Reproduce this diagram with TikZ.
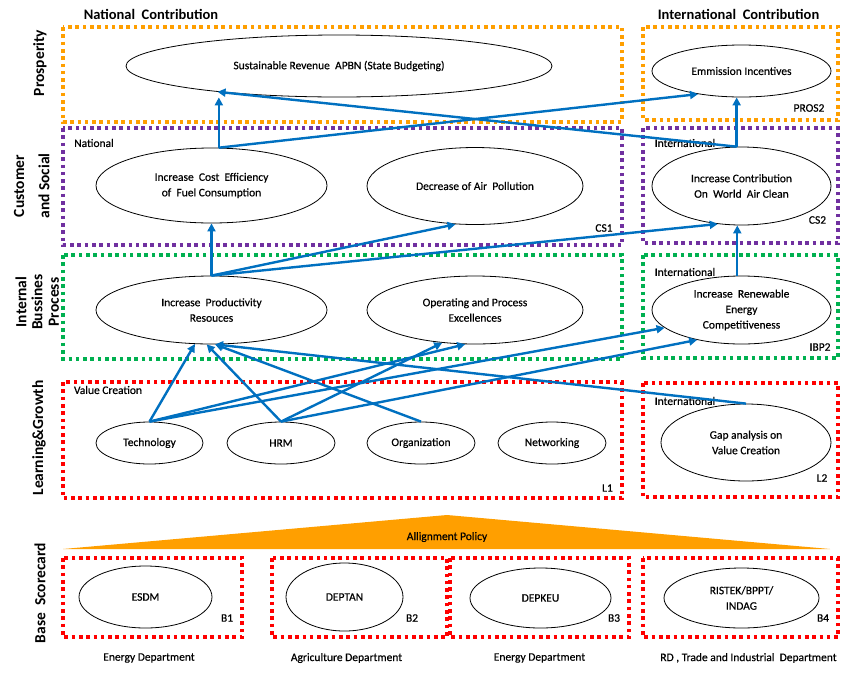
\documentclass[tikz,border=0pt]{standalone}
\usepackage{fontspec}
\setmainfont{Carlito}
\newfontfamily\labfont{Carlito}[FakeBold=0.45]
\usetikzlibrary{shapes.geometric,arrows.meta}
\definecolor{corange}{HTML}{FF9F00}
\definecolor{cpurple}{HTML}{7030A0}
\definecolor{cgreen}{HTML}{00B050}
\definecolor{cred}{HTML}{FF0000}
\definecolor{cblue}{HTML}{0070C0}
\begin{document}
\begin{tikzpicture}[x=1pt,y=-1pt,
  txt/.style={font=\labfont\fontsize{11.5}{15.5}\selectfont, inner sep=0pt, align=center},
  ell/.style={draw, ellipse, line width=0.8pt, inner sep=0pt, align=center, font=\labfont\fontsize{11.5}{15.5}\selectfont},
  hdr/.style={font=\bfseries\fontsize{14.5}{17}\selectfont, inner sep=0pt},
  rowlab/.style={rotate=90, font=\bfseries\fontsize{15.5}{18}\selectfont, inner sep=0pt},
  dotbox/.style={line width=3.3pt, dash pattern=on 3.6pt off 3.7pt},
  conn/.style={draw=cblue, line width=2.4pt, -{Triangle[length=8pt,width=8pt]}}]
\useasboundingbox (0,0) rectangle (841,673);

% dotted boxes
\draw[dotbox, draw=corange] (63,27) rectangle (622,122);
\draw[dotbox, draw=corange] (643,27) rectangle (838,120);
\draw[dotbox, draw=cpurple] (63,128) rectangle (622,245);
\draw[dotbox, draw=cpurple] (643,128) rectangle (838,243);
\draw[dotbox, draw=cgreen] (63,255) rectangle (622,359);
\draw[dotbox, draw=cgreen] (643,255) rectangle (838,358);
\draw[dotbox, draw=cred] (63,382) rectangle (622,498);
\draw[dotbox, draw=cred] (643,383) rectangle (838,497);
\draw[dotbox, draw=cred] (63,558) rectangle (242,637);
\draw[dotbox, draw=cred] (272,558) rectangle (447,637);
\draw[dotbox, draw=cred] (450,558) rectangle (629,637);
\draw[dotbox, draw=cred] (643,558) rectangle (838,637);

% alignment triangle
\fill[corange] (63,549) -- (447,515) -- (830,549) -- cycle;
\node[txt] (align) at (447,537) {Allignment Policy};

% headers
\node[hdr] (hnat) at (151,14) {National\ \ Contribution};
\node[hdr] (hint) at (738.5,14) {International\ \ Contribution};

% row labels
\node[rowlab] (lprosp) at (40,63) {Prosperity};
\node[rowlab] (lcust1) at (19,186) {Customer};
\node[rowlab] (lcust2) at (44,186) {and Social};
\node[rowlab] (libp1) at (21,302) {Internal};
\node[rowlab] (libp2) at (37,302) {Bussines};
\node[rowlab] (libp3) at (54,302) {Process};
\node[rowlab] (llg) at (39,438) {Learning\&Growth};
\node[rowlab] (lbase) at (40,593) {Base\ \ Scorecard};

% small labels
\node[txt] (tnat) at (94,143) {National};
\node[txt] (tint1) at (685,143) {International};
\node[txt] (tint2) at (685,272) {International};
\node[txt] (tval) at (108,390) {Value Creation};
\node[txt] (tint3) at (685,401) {International};
\node[txt] (cpros2) at (809,108) {PROS2};
\node[txt] (ccs1) at (604,228) {CS1};
\node[txt] (ccs2) at (817.5,220) {CS2};
\node[txt] (cibp2) at (820,347) {IBP2};
\node[txt] (cl1) at (607.5,488) {L1};
\node[txt] (cl2) at (822,478) {L2};
\node[txt] (cb1) at (227,618) {B1};
\node[txt] (cb2) at (412,618) {B2};
\node[txt] (cb3) at (614,618) {B3};
\node[txt] (cb4) at (823,618) {B4};
\node[txt] (d1) at (149,658) {Energy Department};
\node[txt] (d2) at (346.5,658) {Agriculture Department};
\node[txt] (d3) at (539.5,658) {Energy Department};
\node[txt] (d4) at (748.5,658) {RD , Trade and Industrial\ \ Department};

% ellipses
\node[ell, minimum width=426pt, minimum height=62pt] (sust) at (339,66) {Sustainable Revenue\ \ APBN (State Budgeting)};
\node[ell, minimum width=179pt, minimum height=52pt] (emm) at (741.5,71) {Emmission Incentives};
\node[ell, minimum width=231pt, minimum height=75pt] (cost) at (211.5,185.5) {Increase\ \ Cost\ \ Efficiency\\of\ \ Fuel Consumption};
\node[ell, minimum width=216pt, minimum height=77pt] (decr) at (475,186) {Decrease of Air\ \ Pollution};
\node[ell, minimum width=179pt, minimum height=78pt] (contrib) at (741.5,186) {Increase Contribution\\On\ \ World\ \ Air Clean};
\node[ell, minimum width=231pt, minimum height=68pt] (prod) at (211.5,310) {Increase\ \ Productivity\\Resouces};
\node[ell, minimum width=216pt, minimum height=68pt] (oper) at (475,310) {Operating and Process\\Excellences};
\node[ell, minimum width=179pt, minimum height=68pt] (renew) at (741.5,310) {Increase\ \ Renewable\\Energy\\Competitiveness};
\node[ell, minimum width=107pt, minimum height=42pt] (tech) at (149.5,443) {Technology};
\node[ell, minimum width=108pt, minimum height=42pt] (hrm) at (281,443) {HRM};
\node[ell, minimum width=108pt, minimum height=42pt] (org) at (421,443) {Organization};
\node[ell, minimum width=108pt, minimum height=42pt] (net) at (552,443) {Networking};
\node[ell, minimum width=170pt, minimum height=77pt] (gap) at (746,442.5) {Gap analysis on\\Value Creation};
\node[ell, minimum width=133pt, minimum height=62pt] (esdm) at (145.5,597) {ESDM};
\node[ell, minimum width=117pt, minimum height=68pt] (deptan) at (344.5,597) {DEPTAN};
\node[ell, minimum width=141pt, minimum height=60pt] (depkeu) at (540.5,598) {DEPKEU};
\node[ell, minimum width=155pt, minimum height=60pt] (ristek) at (741.5,598) {RISTEK/BPPT/\\INDAG};

% connectors
\draw[conn] (cost.79) -- (cost.79 |- sust.south);
\draw[conn] (cost.79) -- (emm.208);
\draw[conn] (contrib.97) -- (sust.192);
\draw[conn] (contrib.97) -- (contrib.97 |- emm.south);
\draw[conn] (prod.north) -- (cost.south);
\draw[conn] (prod.north) -- (decr.243);
\draw[conn] (prod.north) -- (contrib.238);
\draw[conn] (renew.97.5) -- (renew.97.5 |- contrib.south);
\draw[conn] (tech.north) -- (prod.244);
\draw[conn] (tech.north) -- (oper.254);
\draw[conn] (tech.north) -- (renew.193);
\draw[conn] (hrm.north) -- (prod.262);
\draw[conn] (hrm.north) -- (oper.225);
\draw[conn] (hrm.north) -- (renew.214);
\draw[conn] (org.north) -- (prod.276);
\draw[conn] (gap.north) -- (prod.276);
\end{tikzpicture}
\end{document}
